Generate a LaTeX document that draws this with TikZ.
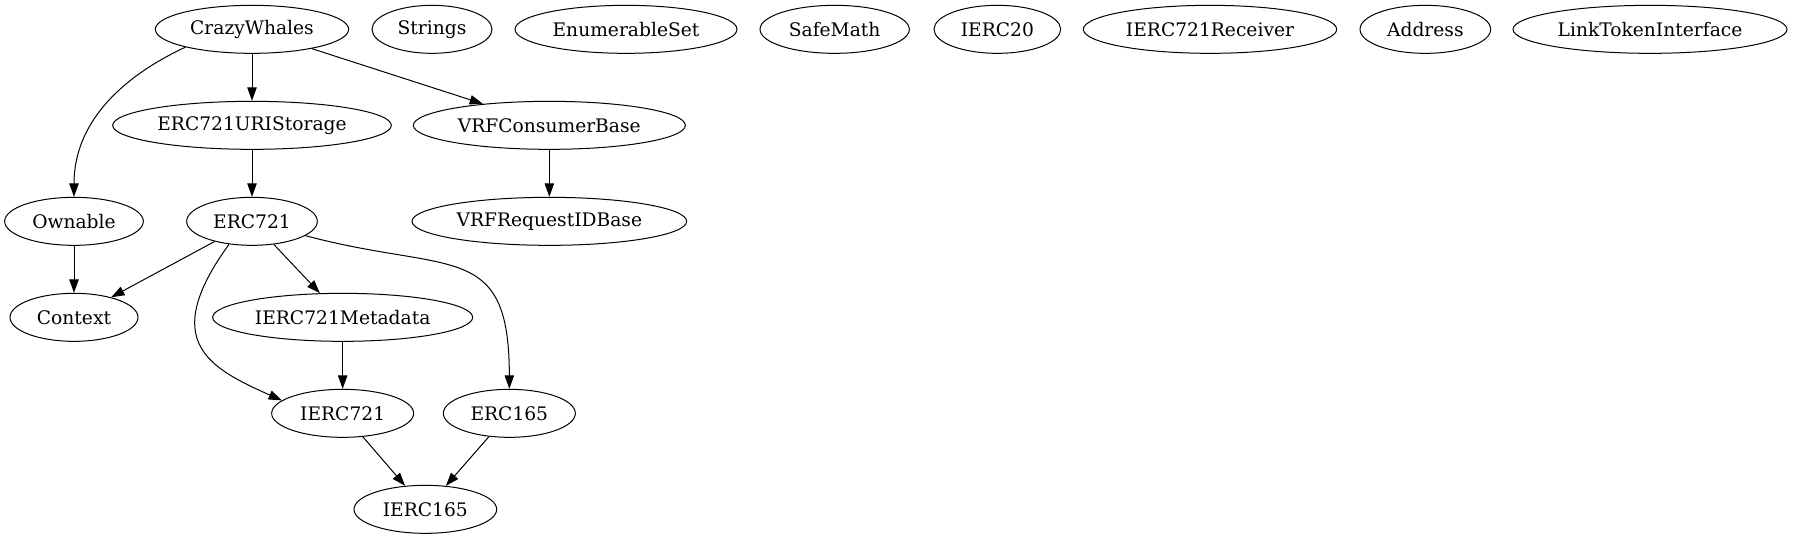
\documentclass[tikz,border=0pt]{standalone}
\usepackage{fontspec}
\setmainfont{DejaVu Serif}
\usetikzlibrary{shapes.geometric, arrows.meta}

\tikzset{
    contract/.style={draw, ellipse, inner sep=0pt, minimum height=36pt, line width=0.75pt, font=\fontsize{14}{16}\selectfont},
    inherits/.style={-{Triangle[length=10pt, width=7pt]}, line width=0.75pt},
}

\begin{document}
\begin{tikzpicture}[x=1pt, y=1pt]
    \useasboundingbox (0,0) rectangle (1344.75,404.25);

    % Top row of contracts
    \node[contract, minimum width=145pt] (crazywhales) at (189,382.25) {CrazyWhales};
    \node[contract, minimum width=90pt] (strings) at (324,382.25) {Strings};
    \node[contract, minimum width=166.5pt] (enumerableset) at (469.5,382.25) {EnumerableSet};
    \node[contract, minimum width=112pt] (safemath) at (626,382.25) {SafeMath};
    \node[contract, minimum width=95pt] (ierctwenty) at (748,382.25) {IERC20};
    \node[contract, minimum width=190pt] (ierc721receiver) at (907.5,382.25) {IERC721Receiver};
    \node[contract, minimum width=98pt] (address) at (1069,382.25) {Address};
    \node[contract, minimum width=205.5pt] (linktoken) at (1237.5,382.25) {LinkTokenInterface};

    % Inherited contracts
    \node[contract, minimum width=209pt] (uristorage) at (189,310.25) {ERC721URIStorage};
    \node[contract, minimum width=204pt] (vrfconsumer) at (412,310.25) {VRFConsumerBase};
    \node[contract, minimum width=104pt] (ownable) at (55.5,238.25) {Ownable};
    \node[contract, minimum width=98pt] (erc721) at (189,238.25) {ERC721};
    \node[contract, minimum width=206pt] (vrfrequest) at (412,238.25) {VRFRequestIDBase};
    \node[contract, minimum width=96pt] (context) at (55.5,166.25) {Context};
    \node[contract, minimum width=195pt] (metadata) at (257,166.25) {IERC721Metadata};
    \node[contract, minimum width=106.5pt] (ierc721) at (257,94.25) {IERC721};
    \node[contract, minimum width=99pt] (erc165) at (382,94.25) {ERC165};
    \node[contract, minimum width=107pt] (ierc165) at (319,22.25) {IERC165};

    % Inheritance edges
    \draw[inherits] (crazywhales) -- (uristorage);
    \draw[inherits] (crazywhales) -- (vrfconsumer);
    \draw[inherits] (crazywhales.195) to[out=205, in=90] (ownable.north);
    \draw[inherits] (uristorage) -- (erc721);
    \draw[inherits] (vrfconsumer) -- (vrfrequest);
    \draw[inherits] (ownable) -- (context);
    \draw[inherits] (erc721) -- (context);
    \draw[inherits] (erc721) -- (metadata);
    \draw[inherits] (erc721.225) .. controls +(234:90) and +(156:60) .. (ierc721.168);
    \draw[inherits] (erc721) to[out=-15, in=90, looseness=1.5] (erc165.north);
    \draw[inherits] (metadata) -- (ierc721);
    \draw[inherits] (ierc721) -- (ierc165);
    \draw[inherits] (erc165) -- (ierc165);
\end{tikzpicture}
\end{document}
